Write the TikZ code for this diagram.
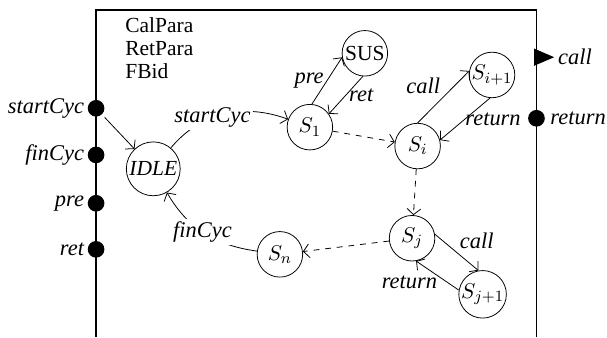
\documentclass[tikz,border=0pt]{standalone}
\usepackage{fontspec}
\setmainfont{Liberation Serif}
\usetikzlibrary{arrows.meta, positioning, shapes.geometric}

\begin{document}
\begin{tikzpicture}[
    font=\fontsize{11}{12.5}\selectfont,
    state/.style={circle, draw, thin, minimum size=0.82cm, inner sep=0pt},
    port/.style={circle, fill=black, minimum size=0.3cm, inner sep=0pt},
    outport/.style={isosceles triangle, isosceles triangle apex angle=60,
        isosceles triangle stretches, fill=black, minimum width=0.31cm,
        minimum height=0.36cm, inner sep=0pt},
    lbl/.style={font=\fontsize{11.5}{13}\itshape, inner sep=1.5pt},
    arrow/.style={-{Straight Barb[length=3pt, width=7pt]}},
    dasharrow/.style={arrow, dashed},
]
    \useasboundingbox (0,0) rectangle (10.93,6.07);

    % Component frame, open at the bottom
    \draw[line width=0.7pt] (1.73,0) -- (1.73,5.89) -- (9.66,5.89) -- (9.66,0);

    \node[anchor=north west, align=left, inner sep=0pt] (params) at (2.25,5.76)
        {CalPara\\[-0.8pt]RetPara\\[-0.8pt]FBid};

    % Input ports on the left side
    \foreach \y/\name/\lab in {4.12/pstart/startCyc, 3.28/pfin/finCyc,
        2.41/ppre/pre, 1.58/pret/ret}
    {
        \node[port] (\name) at (1.73, \y) {};
        \node[lbl, left=0pt of \name] (l\name) {\lab};
    }

    % Output ports on the right side
    \node[outport] (pcall) at (9.72, 5.04) {};
    \node[lbl, right=0pt of pcall] (lpcall) {call};
    \node[port] (preturn) at (9.66, 3.94) {};
    \node[lbl, right=1pt of preturn] (lpreturn) {return};

    % States
    \node[state, minimum size=0.97cm] (idle) at (2.76, 3.03) {\textit{IDLE}};
    \node[state] (s1)  at (5.58, 3.78) {$S_1$};
    \node[state] (sus) at (6.57, 5.11) {SUS};
    \node[state] (si)  at (7.52, 3.44) {$S_i$};
    \node[state] (si1) at (8.86, 4.72) {$S_{i+1}$};
    \node[state] (sj)  at (7.42, 1.78) {$S_j$};
    \node[state] (sj1) at (8.69, 0.77) {$S_{j+1}$};
    \node[state] (sn)  at (5.04, 1.49) {$S_n$};

    % Transitions
    \draw[arrow, shorten <=2pt] (pstart) -- (idle);
    \draw[arrow] (idle) to[out=50, in=160]
        node[lbl, pos=0.4, fill=white] (lstart) {startCyc} (s1);
    \draw[arrow] (sn) to[out=172, in=-60]
        node[lbl, pos=0.52, fill=white] (lfin) {finCyc} (idle);

    \draw[arrow] (s1.85) -- (sus.190) node[lbl, midway, left] (lpre) {pre};
    \draw[arrow] (sus.265) -- (s1.35) node[lbl, midway, right] (lret) {ret};
    \draw[arrow] (si.90) -- (si1.170) node[lbl, midway, above left] (lcalli) {call};
    \draw[arrow] (si1.265) -- (si.15) node[lbl, midway, right, inner sep=0pt] (lreti) {return};
    \draw[arrow] (sj.10) -- (sj1.100) node[lbl, midway, above right] (lcallj) {call};
    \draw[arrow] (sj1.170) -- (sj.280) node[lbl, midway, below left, inner sep=0pt] (lretj) {return};

    % Skipped runs of states
    \draw[dasharrow] (s1) -- (si);
    \draw[dasharrow] (si) -- (sj);
    \draw[dasharrow] (sj) -- (sn);
\end{tikzpicture}
\end{document}
